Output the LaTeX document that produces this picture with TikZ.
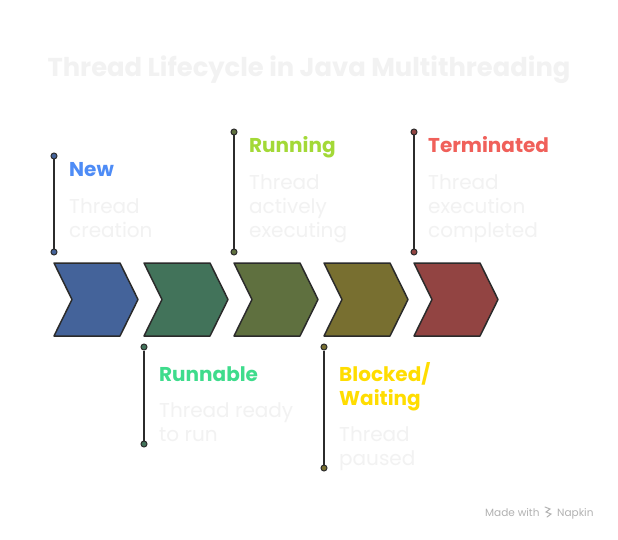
\documentclass[tikz,border=0pt]{standalone}
\usepackage{fontspec}
\setmainfont{Poppins}
\usepackage{xcolor}
\usetikzlibrary{positioning}

\definecolor{edge}{HTML}{2B2B2B}
\definecolor{faint}{HTML}{F2F2F2}
\definecolor{fillnew}{HTML}{44639A}
\definecolor{fillrunnable}{HTML}{42735A}
\definecolor{fillrunning}{HTML}{5F703F}
\definecolor{fillblocked}{HTML}{786F30}
\definecolor{fillterm}{HTML}{924442}
\definecolor{txtnew}{HTML}{4E8CF6}
\definecolor{txtrunnable}{HTML}{3EDC8C}
\definecolor{txtrunning}{HTML}{A3D937}
\definecolor{txtblocked}{HTML}{FFDD00}
\definecolor{txtterm}{HTML}{F0605A}

\begin{document}
\begin{tikzpicture}[x=1pt,y=-1pt,
    chev/.style={draw=edge, line width=1.5pt, line join=round},
    dot/.style={circle, draw=edge, line width=1pt, inner sep=0pt, minimum size=6pt},
    stem/.style={draw=edge, line width=1.6pt},
    head/.style={anchor=base west, inner sep=0pt, font=\fontsize{20}{24}\selectfont\bfseries},
    desc/.style={anchor=base west, inner sep=0pt, align=left, text=faint, font=\fontsize{20}{24}\selectfont}]
    \useasboundingbox[fill=white] (0,0) rectangle (618,540);

    % title
    \node[inner sep=0pt, anchor=base, text=faint, font=\fontsize{25.8}{30}\selectfont\bfseries] (title) at (309,77) {Thread Lifecycle in Java Multithreading};

    % chevrons
    \foreach \x/\c in {54/fillnew, 144/fillrunnable, 234/fillrunning, 324/fillblocked, 414/fillterm}
        \draw[chev, fill=\c] (\x,263) -- (\x+66,263) -- (\x+84,299.5) -- (\x+66,336) -- (\x,336) -- (\x+18,299.5) -- cycle;

    % stems above
    \node[dot, fill=fillnew] (newtop) at (54,156) {};
    \node[dot, fill=fillnew] (newbot) at (54,252) {};
    \draw[stem] (newtop) -- (newbot);
    \node[dot, fill=fillrunning] (runtop) at (234,132) {};
    \node[dot, fill=fillrunning] (runbot) at (234,252) {};
    \draw[stem] (runtop) -- (runbot);
    \node[dot, fill=fillterm] (termtop) at (414,132) {};
    \node[dot, fill=fillterm] (termbot) at (414,252) {};
    \draw[stem] (termtop) -- (termbot);

    % stems below
    \node[dot, fill=fillrunnable] (rblTop) at (144,347) {};
    \node[dot, fill=fillrunnable] (rblBot) at (144,444) {};
    \draw[stem] (rblTop) -- (rblBot);
    \node[dot, fill=fillblocked] (blkTop) at (324,347) {};
    \node[dot, fill=fillblocked] (blkBot) at (324,468) {};
    \draw[stem] (blkTop) -- (blkBot);

    % labels (base = last line)
    \node[head, text=txtnew] (newhead) at (69,177) {New};
    \node[desc] (newdesc) at (69,237) {Thread\\creation};
    \node[head, text=txtrunning] (runhead) at (249,153) {Running};
    \node[desc] (rundesc) at (249,237) {Thread\\actively\\executing};
    \node[head, text=txtterm] (termhead) at (428,153) {Terminated};
    \node[desc] (termdesc) at (428,237) {Thread\\execution\\completed};
    \node[head, text=txtrunnable] (rblhead) at (159,381) {Runnable};
    \node[desc] (rbldesc) at (159,441) {Thread ready\\to run};
    \node[head, text=txtblocked, align=left] (blkhead) at (339,405) {Blocked/\\Waiting};
    \node[desc] (blkdesc) at (339,465) {Thread\\paused};

    % footer
    \node[inner sep=0pt, anchor=base west, text=black!30, font=\fontsize{10.5}{12}\selectfont] (made) at (485,516) {Made with};
    \draw[black!30, line width=1pt, line cap=round] (545,507) -- (550,509) -- (546,512) -- (551,514) -- (547,517);
    \node[inner sep=0pt, anchor=base west, text=black!30, font=\fontsize{10.5}{12}\selectfont] (napkin) at (557,516) {Napkin};
\end{tikzpicture}
\end{document}
